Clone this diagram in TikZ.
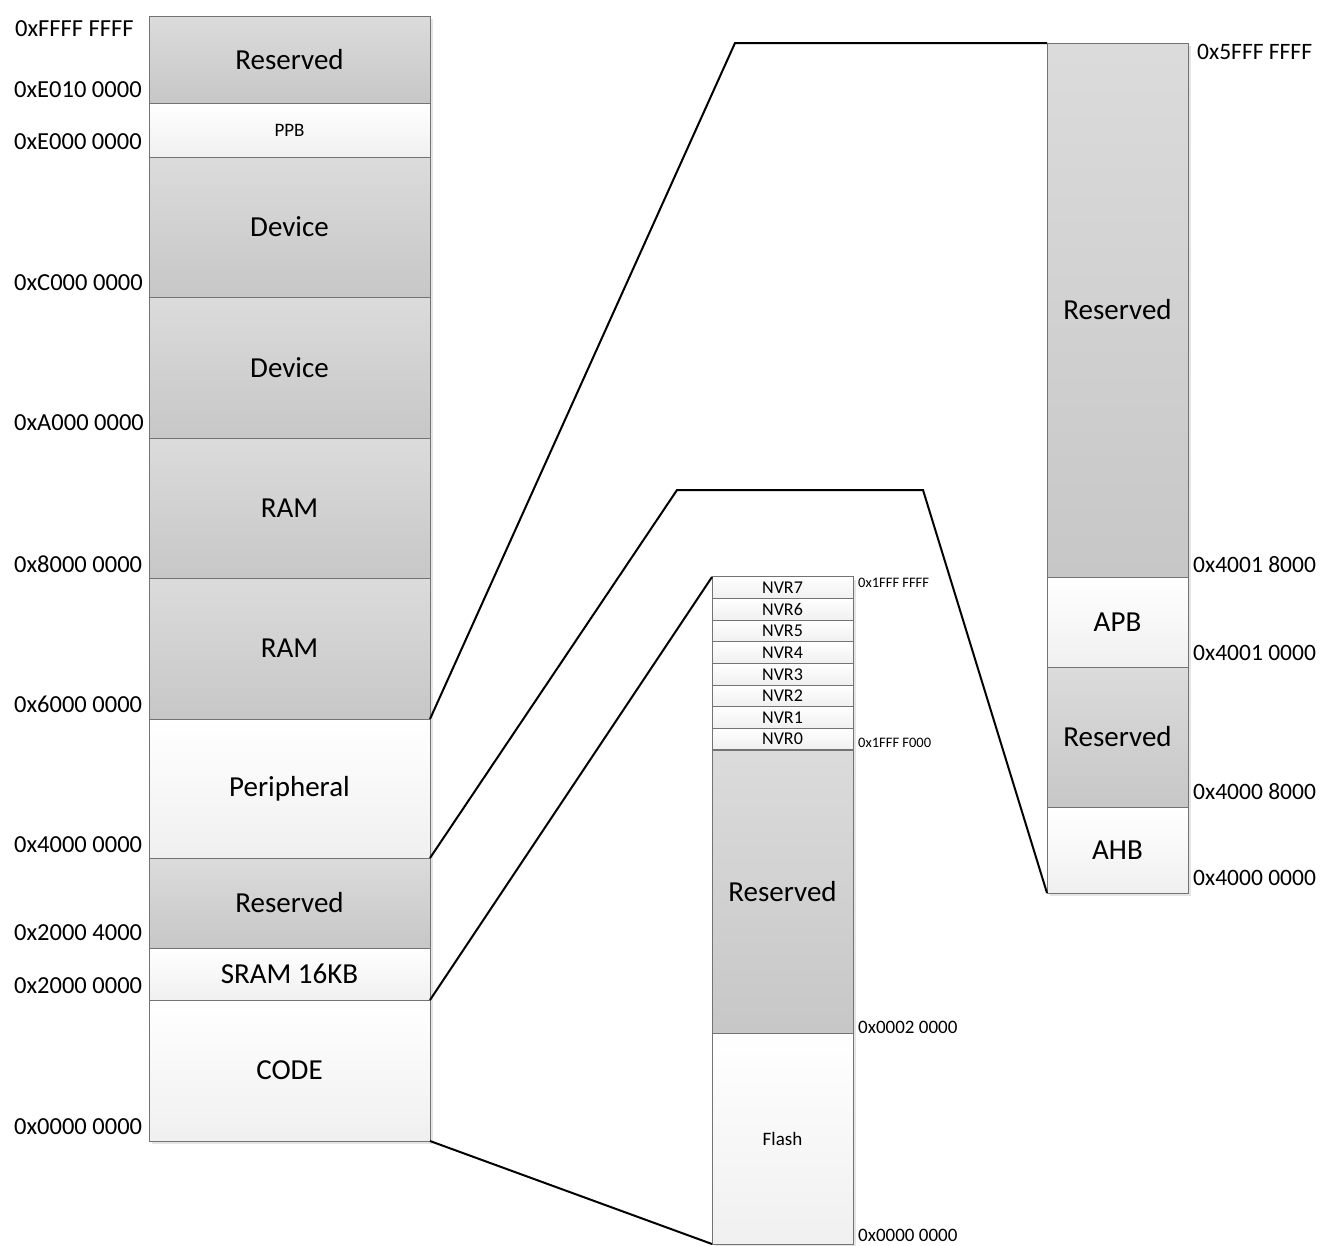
\documentclass[tikz,border=0pt]{standalone}
\usepackage{fontspec}
\setmainfont{Carlito}
\usetikzlibrary{shadows}
\newcommand{\fbig}{\fontsize{29}{31}\selectfont}
\newcommand{\fmid}{\fontsize{24.5}{26}\selectfont}
\newcommand{\fsml}{\fontsize{19}{20}\selectfont}
\newcommand{\ftiny}{\fontsize{14.5}{15}\selectfont}
\tikzset{
  blk/.style={draw=black!55, line width=1pt, inner sep=0pt, outer sep=0pt,
    drop shadow={shadow xshift=3pt, shadow yshift=-3pt, fill=black!10, opacity=1}},
  dark/.style={blk, top color=black!14, bottom color=black!22},
  light/.style={blk, top color=white, bottom color=black!6},
  lcol/.style={minimum width=281pt},
  ncol/.style={minimum width=141pt},
  addr/.style={inner sep=0pt, font=\fmid},
  link/.style={line width=2pt, line join=miter}
}
\begin{document}
\begin{tikzpicture}[x=1pt, y=-1pt]
\useasboundingbox (0,0) rectangle (1327,1245);
% left column
\node[dark, lcol, minimum height=87pt, font=\fbig] (lres1) at (289.5,59.5) {Reserved};
\node[light, lcol, minimum height=54pt, font=\fsml] (ppb) at (289.5,130) {PPB};
\node[dark, lcol, minimum height=140pt, font=\fbig] (dev1) at (289.5,227) {Device};
\node[dark, lcol, minimum height=141pt, font=\fbig] (dev2) at (289.5,367.5) {Device};
\node[dark, lcol, minimum height=140pt, font=\fbig] (ram1) at (289.5,508) {RAM};
\node[dark, lcol, minimum height=141pt, font=\fbig] (ram2) at (289.5,648.5) {RAM};
\node[light, lcol, minimum height=139pt, font=\fbig] (periph) at (289.5,788.5) {Peripheral};
\node[dark, lcol, minimum height=90pt, font=\fbig] (lres2) at (289.5,903) {Reserved};
\node[light, lcol, minimum height=52pt, font=\fbig] (sram) at (289.5,974) {SRAM 16KB};
\node[light, lcol, minimum height=141pt, font=\fbig] (code) at (289.5,1070.5) {CODE};
% left addresses
\node[addr, anchor=west] (a1) at (15,29) {0xFFFF FFFF};
\node[addr, anchor=west] (a2) at (14,90) {0xE010 0000};
\node[addr, anchor=west] (a3) at (14,142) {0xE000 0000};
\node[addr, anchor=west] (a4) at (14,283) {0xC000 0000};
\node[addr, anchor=west] (a5) at (14,423) {0xA000 0000};
\node[addr, anchor=west] (a6) at (14,564) {0x8000 0000};
\node[addr, anchor=west] (a7) at (14,704) {0x6000 0000};
\node[addr, anchor=west] (a8) at (14,845) {0x4000 0000};
\node[addr, anchor=west] (a9) at (14,933) {0x2000 4000};
\node[addr, anchor=west] (a10) at (14,986) {0x2000 0000};
\node[addr, anchor=west] (a11) at (14,1127) {0x0000 0000};
% middle column
\foreach \i/\k in {7/0,6/1,5/2,4/3,3/4,2/5,1/6,0/7}{
  \node[light, ncol, minimum height=21.625pt, font=\fontsize{18}{19}\selectfont]
    (nvr\i) at (782.5,{587.8+\k*21.625}) {NVR\i};
}
\node[dark, ncol, minimum height=283pt, font=\fbig] (mres) at (782.5,891.5) {Reserved};
\node[light, ncol, minimum height=211pt, font=\fsml] (flash) at (782.5,1138.5) {Flash};
\node[inner sep=0pt, anchor=west, font=\ftiny] (m1) at (858,583) {0x1FFF FFFF};
\node[inner sep=0pt, anchor=west, font=\ftiny] (m2) at (858,743) {0x1FFF F000};
\node[inner sep=0pt, anchor=west, font=\fsml] (m3) at (858,1027) {0x0002 0000};
\node[inner sep=0pt, anchor=west, font=\fsml] (m4) at (858,1235) {0x0000 0000};
% right column
\node[dark, ncol, minimum height=534pt, font=\fbig] (rres1) at (1117.5,310) {Reserved};
\node[light, ncol, minimum height=90pt, font=\fbig] (apb) at (1117.5,622) {APB};
\node[dark, ncol, minimum height=140pt, font=\fbig] (rres2) at (1117.5,737) {Reserved};
\node[light, ncol, minimum height=86pt, font=\fbig] (ahb) at (1117.5,850) {AHB};
\node[addr, anchor=west, font=\fontsize{23.5}{25}\selectfont] (r1) at (1197,52) {0x5FFF FFFF};
\node[addr, anchor=west, font=\fontsize{23.5}{25}\selectfont] (r2) at (1193,565) {0x4001 8000};
\node[addr, anchor=west, font=\fontsize{23.5}{25}\selectfont] (r3) at (1193,653) {0x4001 0000};
\node[addr, anchor=west, font=\fontsize{23.5}{25}\selectfont] (r4) at (1193,792) {0x4000 8000};
\node[addr, anchor=west, font=\fontsize{23.5}{25}\selectfont] (r5) at (1193,878) {0x4000 0000};
% connectors
\coordinate (b1) at (735,43);
\coordinate (b2) at (677,490);
\coordinate (b3) at (923,490);
\draw[link] (periph.north east) -- (b1) -- (rres1.north west);
\draw[link] (periph.south east) -- (b2) -- (b3) -- (ahb.south west);
\draw[link] (sram.south east) -- (nvr7.north west);
\draw[link] (code.south east) -- (flash.south west);
\end{tikzpicture}
\end{document}
